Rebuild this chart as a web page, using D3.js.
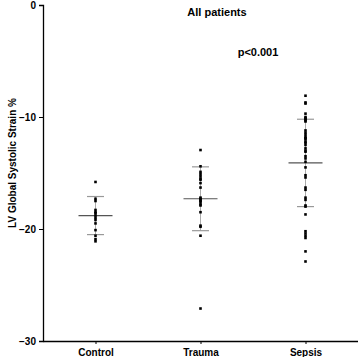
<!DOCTYPE html>
<html lang="en">
<meta charset="utf-8">
<head>
    <script src='https://d3js.org/d3.v7.min.js'></script>
    <style>
        body { margin: 0; background: #fff; }
        text { font-family: "Liberation Sans", Arial, sans-serif; font-weight: bold; }
    </style>
</head>
<body>
<div id="chart"></div>

<script>
// groups and individual values
const groups = ["Control", "Trauma", "Sepsis"];
const control = [-15.8, -17.3, -17.5, -18.3, -18.5, -18.6, -18.8, -19.0, -19.2, -19.5, -20.1, -20.6, -20.9, -21.1];
const trauma = [-12.95, -14.4, -14.9, -15.1, -15.3, -15.5, -15.6, -15.9, -16.3, -17.2, -17.3, -17.4,
    -17.5, -17.6, -17.8, -17.9, -18.5, -19.7, -19.8, -20.6, -27.1];
const sepsis = [-8.1, -8.7, -8.8, -9.7, -10.0, -10.1, -10.2, -10.3, -10.4, -11.2, -11.4, -11.6, -11.8,
    -11.9, -12.0, -12.2, -12.3, -12.5, -12.8, -13.0, -13.1, -13.5, -13.7, -14.0, -14.5, -15.2, -15.4,
    -16.3, -16.5, -17.2, -17.4, -17.9, -18.0, -18.7, -20.2, -20.4, -20.6, -20.8, -22.0, -22.9];
// mean and SD bars as drawn
const means = [-18.8, -17.3, -14.1];
const sds = [1.7, 2.85, 3.9];
const yTicks = [0, -10, -20, -30];

const values = [control, trauma, sepsis];

// set the dimensions and margins of the graph
const margin = {top: 5, right: 0, bottom: 16, left: 43};
const width = 358 - margin.left - margin.right;
const height = 357 - margin.top - margin.bottom;

var svg = d3.select("#chart")
    .append("svg")
    .attr("width", 358)
    .attr("height", 357)
    .append("g")
    .attr("transform", "translate(" + margin.left + "," + margin.top + ")");

var x = d3.scalePoint()
    .domain(groups)
    .range([0, width])
    .padding(0.5);

var y = d3.scaleLinear()
    .domain([-30, 0])
    .range([height, 0]);

// Y axis
var yAxis = svg.append("g")
    .call(d3.axisLeft(y).tickValues(yTicks).tickSize(4).tickFormat(d3.format("d")));
yAxis.select(".domain").attr("stroke-width", 1.3);
yAxis.selectAll("text").attr("font-size", 10).attr("fill", "#000");

// X axis
var xAxis = svg.append("g")
    .attr("transform", "translate(0," + height + ")")
    .call(d3.axisBottom(x).tickSize(3).tickSizeOuter(0));
xAxis.select(".domain").attr("stroke-width", 1.5);
xAxis.selectAll("text").attr("font-size", 10).attr("fill", "#000").attr("dy", "0.85em");

// axis title
svg.append("text")
    .attr("transform", "rotate(-90)")
    .attr("x", -(163 - margin.top))
    .attr("y", 12 - margin.left)
    .attr("dy", "0.35em")
    .attr("text-anchor", "middle")
    .attr("font-size", 10)
    .text("LV Global Systolic Strain %");

// mean +/- SD
groups.forEach(function(g, i) {
    var cx = x(g);
    svg.append("line")
        .attr("x1", cx).attr("x2", cx)
        .attr("y1", y(means[i] + sds[i])).attr("y2", y(means[i] - sds[i]))
        .attr("stroke", "#aaa").attr("stroke-width", 1);
    [means[i] + sds[i], means[i] - sds[i]].forEach(function(v) {
        svg.append("line")
            .attr("x1", cx - 8.5).attr("x2", cx + 8.5)
            .attr("y1", y(v)).attr("y2", y(v))
            .attr("stroke", "#999").attr("stroke-width", 1.2);
    });
    svg.append("line")
        .attr("x1", cx - 17).attr("x2", cx + 17)
        .attr("y1", y(means[i])).attr("y2", y(means[i]))
        .attr("stroke", "#555").attr("stroke-width", 1.2);

    svg.selectAll(".pt" + i)
        .data(values[i])
        .enter()
        .append("rect")
        .attr("x", cx - 1.3)
        .attr("y", function(d) { return y(d) - 1.3; })
        .attr("width", 2.6)
        .attr("height", 2.6)
        .attr("fill", "#000");
});

// titles
svg.append("text")
    .attr("x", 217 - margin.left)
    .attr("y", 12 - margin.top)
    .attr("dy", "0.35em")
    .attr("text-anchor", "middle")
    .attr("font-size", 11)
    .text("All patients");

svg.append("text")
    .attr("x", 258 - margin.left)
    .attr("y", 52 - margin.top)
    .attr("dy", "0.35em")
    .attr("text-anchor", "middle")
    .attr("font-size", 11)
    .text("p<0.001");
</script>
</body>
</html>
